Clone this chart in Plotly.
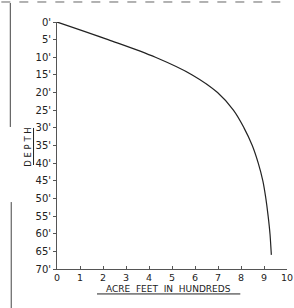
import plotly.graph_objects as go

# Depth (feet) vs capacity (acre feet in hundreds)
depth_ft = [0, 5, 10, 15, 20, 25, 30, 35, 40, 45, 50, 55, 60, 65, 66]
acre_feet_hundreds = [0, 2.22, 4.28, 5.88, 6.98, 7.67, 8.13, 8.49, 8.75, 8.95, 9.08, 9.18, 9.26, 9.31, 9.32]

x_ticks = [0, 1, 2, 3, 4, 5, 6, 7, 8, 9, 10]
x_ticktext = ["0", "1", "2", "3", "4", "5", "6", "7", "8", "9", "10"]
y_ticks = [0, 5, 10, 15, 20, 25, 30, 35, 40, 45, 50, 55, 60, 65, 70]
y_ticktext = [f"{v}'" for v in y_ticks]

FONT = "DejaVu Sans"
INK = "#222222"

fig = go.Figure()
fig.add_trace(go.Scatter(
    x=acre_feet_hundreds, y=depth_ft, mode="lines",
    line=dict(color=INK, width=1.2, shape="spline", smoothing=1.0),
    showlegend=False, hoverinfo="skip"))

fig.update_layout(
    width=294, height=308,
    margin=dict(l=57, r=1, t=22, b=39),
    paper_bgcolor="white", plot_bgcolor="white",
    font=dict(family=FONT, size=10, color=INK),
    xaxis=dict(range=[0, 10], tickvals=x_ticks, ticktext=x_ticktext,
               showgrid=False, zeroline=False, showline=True,
               linecolor="#555555", linewidth=1, ticks="inside",
               ticklen=3, tickcolor="#555555", ticklabeloverflow="allow",
               tickfont=dict(family=FONT, size=9.5, color=INK)),
    yaxis=dict(range=[70, 0], tickvals=y_ticks, ticktext=y_ticktext,
               showgrid=False, zeroline=False, showline=True,
               linecolor="#555555", linewidth=1, ticks="outside",
               ticklen=3, tickcolor="#555555",
               tickfont=dict(family=FONT, size=10, color=INK)),
)

fig.add_annotation(xref="paper", yref="paper", x=0.483, y=-0.080,
                   text="ACRE  FEET  IN  HUNDREDS",
                   showarrow=False, font=dict(family=FONT, size=9, color=INK),
                   xanchor="center", yanchor="middle")
fig.add_annotation(xref="paper", yref="paper", x=-0.127, y=0.494,
                   text="D E P T H", textangle=-90,
                   showarrow=False, font=dict(family=FONT, size=8.5, color=INK),
                   xanchor="center", yanchor="middle")

# underlines and scan-frame lines
fig.add_shape(type="line", xref="paper", yref="paper", x0=0.174, x1=0.797,
              y0=-0.101, y1=-0.101, line=dict(color=INK, width=1))
fig.add_shape(type="line", xref="paper", yref="paper", x0=-0.102, x1=-0.102,
              y0=0.421, y1=0.571, line=dict(color=INK, width=1))
fig.add_shape(type="line", xref="paper", yref="paper", x0=-0.203, x1=-0.203,
              y0=0.575, y1=1.077, line=dict(color="#444444", width=1))
fig.add_shape(type="line", xref="paper", yref="paper", x0=-0.199, x1=-0.199,
              y0=-0.158, y1=0.271, line=dict(color="#444444", width=1))
fig.add_shape(type="line", xref="paper", yref="paper", x0=-0.242, x1=1.004,
              y0=1.081, y1=1.081, line=dict(color="#666666", width=1, dash="dash"))

fig.write_html("out.html", config={"displayModeBar": False},
               post_script="document.body.style.margin='0';document.body.style.overflow='hidden';")
